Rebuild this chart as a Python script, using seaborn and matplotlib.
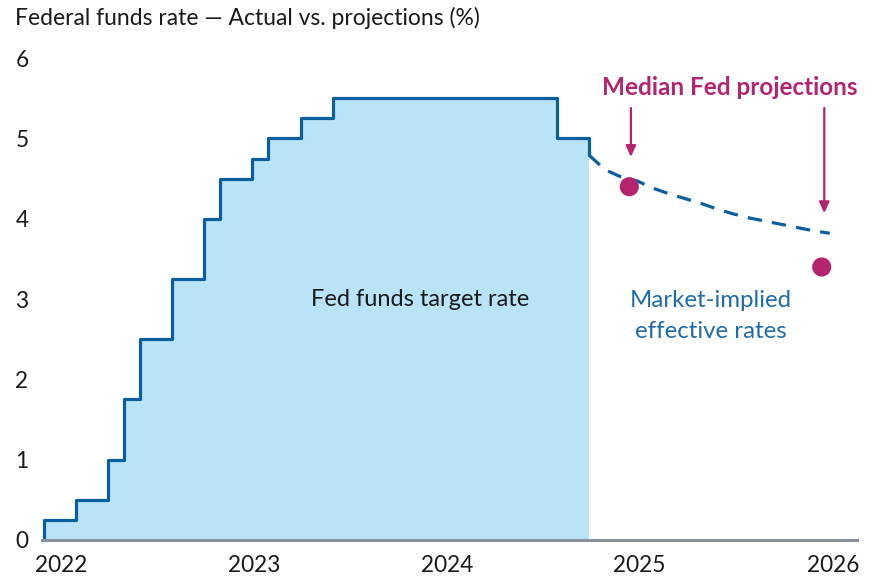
import matplotlib
matplotlib.use("Agg")
import matplotlib.pyplot as plt
import seaborn as sns
import pandas as pd

# ---- data (x = months since Jan 2022) ----
step_months = [0, 2, 4, 5, 6, 8, 10, 11, 13, 14, 16, 18, 32, 34]
step_rates = [0.25, 0.5, 1.0, 1.75, 2.5, 3.25, 4.0, 4.5, 4.75, 5.0, 5.25, 5.5, 5.0, 5.0]

market_months = [34, 35, 36, 37, 38, 39, 40, 41, 42, 43, 44, 45, 46, 47, 48, 49]
market_rates = [4.79, 4.61, 4.52, 4.47, 4.38, 4.31, 4.25, 4.19, 4.12, 4.06, 4.01, 3.97, 3.93, 3.89, 3.85, 3.82]

proj_months = [36.5, 48.5]
proj_rates = [4.4, 3.4]

year_labels = ["2022", "2023", "2024", "2025", "2026"]
year_ticks = [1.05, 13.1, 25.15, 37.15, 49.2]
y_ticks = [0, 1, 2, 3, 4, 5, 6]

BLUE = "#0A5FA0"
FILL = "#B9E4F8"
MAG = "#B5246F"
TXT = "#1A1A1A"

sns.set_theme(style="white")
plt.rcParams["font.family"] = ["Lato", "DejaVu Sans"]

fig = plt.figure(figsize=(8.74, 5.82), dpi=100)
x0 = 42.4 / 874
ax = fig.add_axes([x0, 1 - 540 / 582, 857 / 874 - x0, (540 - 58.2) / 582])

# fill area
ax.fill_between(step_months, 0, step_rates, step="post", color=FILL, lw=0, zorder=1)

# step line (starting from baseline, ending into market curve)
line_df = pd.DataFrame({
    "x": [step_months[0]] + step_months + [market_months[0]],
    "y": [0] + step_rates + [market_rates[0]],
})
sns.lineplot(data=line_df, x="x", y="y", ax=ax, color=BLUE, lw=2.3,
             drawstyle="steps-post", sort=False, estimator=None, zorder=3)

# market-implied dashed
mk_df = pd.DataFrame({"x": market_months, "y": market_rates})
sns.lineplot(data=mk_df, x="x", y="y", ax=ax, color=BLUE, lw=2.3,
             linestyle=(0, (4.5, 3.2)), estimator=None, sort=False, zorder=3)

# projections
pr_df = pd.DataFrame({"x": proj_months, "y": proj_rates})
sns.scatterplot(data=pr_df, x="x", y="y", ax=ax, color=MAG, s=190,
                edgecolor="none", zorder=4)

# arrows
for xa, ytip in [(36.6, 4.77), (48.66, 4.07)]:
    ax.annotate("", xy=(xa, ytip), xytext=(xa, 5.38),
                arrowprops=dict(arrowstyle="-|>,head_length=0.55,head_width=0.25",
                                color=MAG, lw=1.6, shrinkA=0, shrinkB=0))

ax.text(1.0, 5.63, "Median Fed projections", transform=ax.get_yaxis_transform(),
        ha="right", va="center", color=MAG, fontsize=17.5, fontweight="bold")
ax.text(23.45, 2.99, "Fed funds target rate", ha="center", va="center",
        color=TXT, fontsize=17)
ax.text(41.6, 2.79, "Market-implied\neffective rates", ha="center", va="center",
        color="#1F6CAB", fontsize=17.3, linespacing=1.6)

ax.set_xlim(-0.1, 50.7)
ax.set_ylim(0, 6)
ax.set_xticks(year_ticks)
ax.set_xticklabels(year_labels)
ax.set_yticks(y_ticks)
ax.set_yticklabels([str(v) for v in y_ticks])
ax.tick_params(axis="both", length=0, labelsize=16.3, labelcolor=TXT)
ax.tick_params(axis="x", pad=11)
ax.tick_params(axis="y", pad=10)
ax.set_xlabel("")
ax.set_ylabel("")
for s in ["top", "right", "left"]:
    ax.spines[s].set_visible(False)
ax.spines["bottom"].set_color("#8A9299")
ax.spines["bottom"].set_linewidth(2.2)
ax.spines["bottom"].set_zorder(5)
ax.grid(False)

fig.text(15 / 874, 1 - 18 / 582, "Federal funds rate \u2014 Actual vs. projections (%)",
         ha="left", va="center", fontsize=16.5, color=TXT)

fig.savefig("out.png", dpi=100)
